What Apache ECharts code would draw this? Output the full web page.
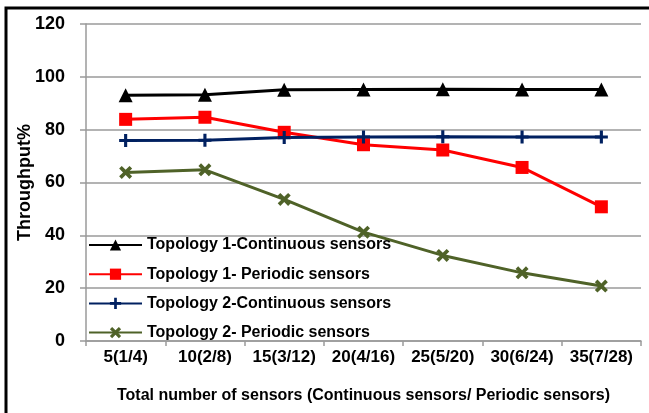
<!DOCTYPE html>
<html>
<head>
<meta charset="utf-8">
<script src="https://cdn.jsdelivr.net/npm/echarts@6/dist/echarts.min.js"></script>
<style>
html,body{margin:0;padding:0;background:#fff;}
#c{width:649px;height:413px;}
</style>
</head>
<body>
<div id="c"></div>
<script>
const categories = ['5(1/4)', '10(2/8)', '15(3/12)', '20(4/16)', '25(5/20)', '30(6/24)', '35(7/28)'];
const seriesNames = ['Topology 1-Continuous sensors', 'Topology 1- Periodic sensors', 'Topology 2-Continuous sensors', 'Topology 2- Periodic sensors'];
const t1Continuous = [93, 93.2, 95.1, 95.2, 95.3, 95.2, 95.2];
const t1Periodic = [83.9, 84.7, 79, 74.3, 72.3, 65.7, 50.8];
const t2Continuous = [75.9, 76, 77, 77.2, 77.3, 77.2, 77.2];
const t2Periodic = [63.8, 64.8, 53.6, 41.2, 32.4, 25.8, 20.8];
const yTicks = [0, 20, 40, 60, 80, 100, 120];

const FONT = 'Liberation Sans';
const plusPath = 'path://M0,3.8H3.8V0H6.2V3.8H10V6.2H6.2V10H3.8V6.2H0Z';
const crossPath = 'path://M0,2L2,0L5,3L8,0L10,2L7,5L10,8L8,10L5,7L2,10L0,8L3,5Z';

function mk(name, data, color, symbol, size) {
  return {
    name: name, type: 'line', data: data,
    symbol: symbol, symbolSize: size,
    lineStyle: {color: color, width: 3},
    itemStyle: {color: color},
    emphasis: {disabled: true},
    animation: false
  };
}

const chart = echarts.init(document.getElementById('c'), null, {renderer: 'canvas'});
chart.setOption({
  animation: false,
  backgroundColor: '#fff',
  grid: {left: 86, right: 8, top: 24, bottom: 72, containLabel: false, outerBoundsMode: 'none'},
  graphic: [{
    type: 'rect', shape: {x: 6, y: 8, width: 700, height: 500},
    style: {fill: 'none', stroke: '#000', lineWidth: 3}, silent: true
  }],
  legend: {
    orient: 'vertical', left: 88, top: 237, padding: 0,
    itemWidth: 53, itemHeight: 14, itemGap: 13.2,
    textStyle: {fontFamily: FONT, fontWeight: 'bold', fontSize: 16, color: '#000'},
    data: seriesNames
  },
  xAxis: {
    type: 'category', data: categories, boundaryGap: true,
    axisLine: {lineStyle: {color: '#9a9a9a', width: 1.5}},
    axisTick: {show: true, length: 5, lineStyle: {color: '#9a9a9a', width: 1.5}},
    axisLabel: {fontFamily: FONT, fontWeight: 'bold', fontSize: 17, color: '#000', margin: 8, interval: 0},
    name: 'Total number of sensors (Continuous sensors/ Periodic sensors)',
    nameLocation: 'middle', nameGap: 47, nameMoveOverlap: false,
    nameTextStyle: {fontFamily: FONT, fontWeight: 'bold', fontSize: 16, color: '#000'}
  },
  yAxis: {
    type: 'value', min: 0, max: 120, interval: 20,
    axisLine: {show: true, lineStyle: {color: '#9a9a9a', width: 1.5}},
    axisTick: {show: true, length: 6, inside: false, lineStyle: {color: '#9a9a9a', width: 1.5}},
    splitLine: {lineStyle: {color: '#9a9a9a', width: 1.5}},
    axisLabel: {fontFamily: FONT, fontWeight: 'bold', fontSize: 18, color: '#000', margin: 21,
      formatter: function (v) { return yTicks.indexOf(v) >= 0 ? String(v) : ''; }},
    name: 'Throughput%', nameLocation: 'middle', nameGap: 61, nameRotate: 90, nameMoveOverlap: false,
    nameTextStyle: {fontFamily: FONT, fontWeight: 'bold', fontSize: 18, color: '#000', verticalAlign: 'middle'}
  },
  series: [
    mk(seriesNames[0], t1Continuous, '#000000', 'triangle', 14),
    mk(seriesNames[1], t1Periodic, '#ff0000', 'rect', 13),
    mk(seriesNames[2], t2Continuous, '#002060', plusPath, 13),
    mk(seriesNames[3], t2Periodic, '#4f6228', crossPath, 13)
  ]
});
</script>
</body>
</html>
